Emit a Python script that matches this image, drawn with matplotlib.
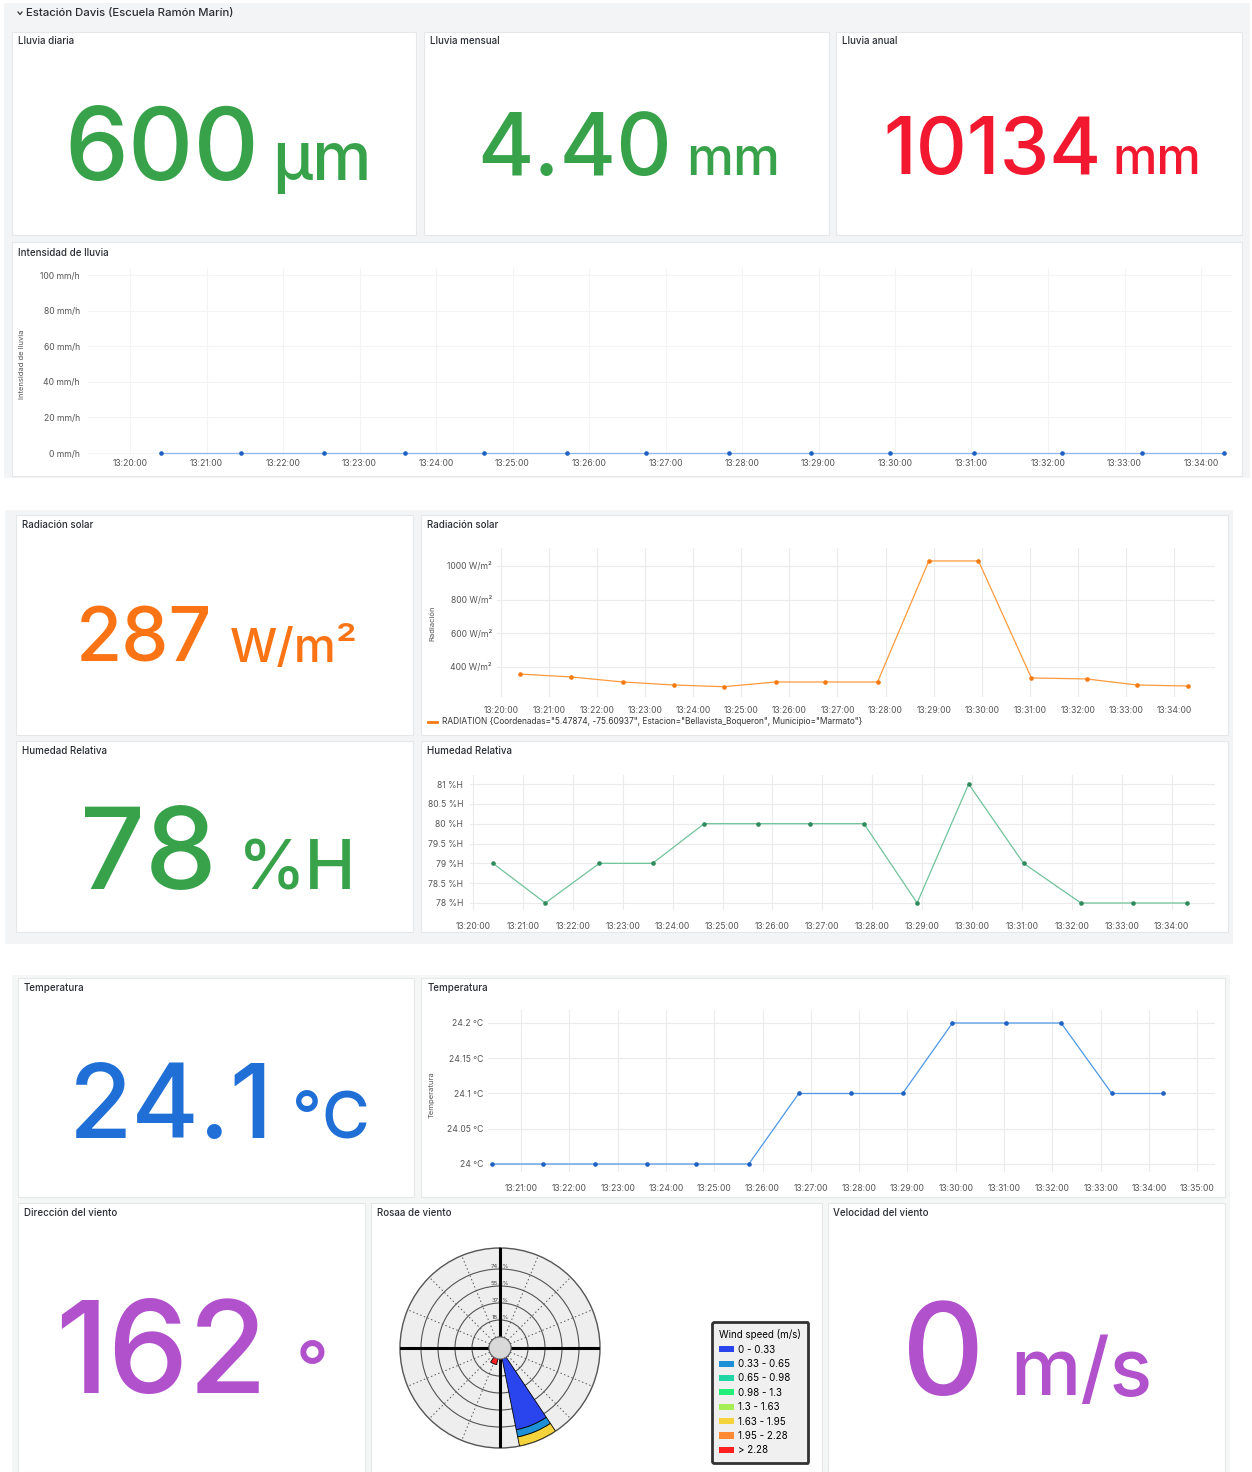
import numpy as np
import matplotlib.pyplot as plt
from matplotlib.patches import Rectangle, Circle, Patch
from matplotlib.lines import Line2D
from matplotlib.ticker import FuncFormatter

plt.rcParams['font.family'] = ['Inter', 'DejaVu Sans']

W, H = 1252, 1472

# ---- datos ----
tiempos = ["13:20:24", "13:21:27", "13:22:32", "13:23:36", "13:24:38", "13:25:43",
           "13:26:45", "13:27:50", "13:28:54", "13:29:56", "13:31:02", "13:32:11",
           "13:33:14", "13:34:18"]
intensidad_lluvia = [0, 0, 0, 0, 0, 0, 0, 0, 0, 0, 0, 0, 0, 0]
radiacion = [358, 341, 311, 293, 283, 311, 311, 311, 1030, 1030, 335, 329, 293, 287]
humedad = [79, 78, 79, 79, 80, 80, 80, 80, 78, 81, 79, 78, 78, 78]
temperatura = [24.0, 24.0, 24.0, 24.0, 24.0, 24.0, 24.1, 24.1, 24.1, 24.2, 24.2, 24.2, 24.1, 24.1]

titulos_stat = ["Lluvia diaria", "Lluvia mensual", "Lluvia anual", "Radiación solar",
                "Humedad Relativa", "Temperatura", "Dirección del viento", "Velocidad del viento"]
valores_stat = ["600", "4.40", "10134", "287", "78", "24.1", "162", "0"]
unidades_stat = ["µm", "mm", "mm", "W/m²", "%H", "°C", "°", "m/s"]

direcciones_viento = [157.5, 202.5]
rangos_viento = ["0 - 0.33", "0.33 - 0.65", "0.65 - 0.98", "0.98 - 1.3", "1.3 - 1.63",
                 "1.63 - 1.95", "1.95 - 2.28", "> 2.28"]
# frecuencia (%) por rango de velocidad, para cada direccion
frecuencias_viento = [[79.0, 0], [8.0, 0], [0, 0], [0, 0], [0, 0], [10.0, 0], [0, 0], [0, 6.5]]
anillos_viento = [18.55, 37.1, 55.65, 74.2]
etiquetas_anillos = ["18.5%", "37.1%", "55.6%", "74.2%"]

etiqueta_radiacion = ('RADIATION {Coordenadas="5.47874, -75.60937", Estacion="Bellavista_Boqueron", '
                      'Municipio="Marmato"}')

colores_viento = ["#2b45ee", "#1e90d8", "#20d6a5", "#22ee7c", "#a6ee55", "#f5d33b", "#ff8a33", "#ff1f1f"]


def seg(t):
    h, m, s = map(int, t.split(':'))
    return h * 3600 + m * 60 + s - (13 * 3600 + 20 * 60)


t = np.array([seg(x) for x in tiempos])

fig = plt.figure(figsize=(W / 100, H / 100), dpi=100)
fig.patch.set_facecolor('white')


def rect(x0, y0, x1, y1):
    return [x0 / W, 1 - y1 / H, (x1 - x0) / W, (y1 - y0) / H]


def caja(x0, y0, x1, y1, color, borde='none', z=-2):
    fig.patches.append(Rectangle((x0 / W, 1 - y1 / H), (x1 - x0) / W, (y1 - y0) / H,
                                 transform=fig.transFigure, facecolor=color,
                                 edgecolor=borde, lw=0.8, zorder=z))


def texto(x, y, s, **kw):
    fig.text(x / W, 1 - y / H, s, **kw)


# fondos de secciones
caja(4, 3, 1250, 478, '#f3f4f5', z=-3)
caja(5, 510, 1233, 944, '#f3f4f5', z=-3)
caja(12, 975, 1230, 1472, '#f5f6f6', z=-3)

paneles = [(12, 32, 416, 235), (424, 32, 829, 235), (836, 32, 1242, 235), (12, 242, 1242, 476),
           (16, 515, 413, 735), (421, 515, 1228, 735), (16, 741, 413, 932), (421, 741, 1228, 932),
           (18, 978, 414, 1197), (421, 978, 1225, 1197), (18, 1203, 365, 1472),
           (371, 1203, 822, 1472), (828, 1203, 1225, 1472)]
for p in paneles:
    caja(*p, 'white', '#e6e7e8')

# cabecera
fig.lines.append(Line2D([18 / W, 20 / W, 22 / W], [1 - 12 / H, 1 - 14.5 / H, 1 - 12 / H],
                        transform=fig.transFigure, color='#333', lw=0.9))
texto(26, 13, "Estación Davis (Escuela Ramón Marín)", fontsize=8.2, color='#2a2d33',
      va='center', fontweight='medium')

# titulos de paneles
pos_titulos = [(18, 41), (430, 41), (842, 41), (22, 525), (22, 751), (24, 988), (24, 1213), (833, 1213)]
for (x, y), s in zip(pos_titulos, titulos_stat):
    texto(x, y, s, fontsize=7, color='#2a2d33', va='center', fontweight='medium')
for (x, y), s in zip([(18, 253), (427, 525), (427, 751), (428, 988), (377, 1213)],
                     ["Intensidad de lluvia", "Radiación solar", "Humedad Relativa", "Temperatura",
                      "Rosaa de viento"]):
    texto(x, y, s, fontsize=7, color='#2a2d33', va='center', fontweight='medium')

# valores grandes
verde, rojo, naranja, azul, morado = '#37a24a', '#f2182f', '#fa7415', '#1f6fd6', '#b151cc'
formato_stat = [  # color, x valor, x unidad, linea base, tam valor, tam unidad
    (verde, 64, 272, 180, 73, 48),
    (verde, 477, 686, 175, 62, 38),
    (rojo, 883, 1112, 174, 57, 36),
    (naranja, 76, 230, 662, 54, 34),
    (verde, 80, 238, 889, 82, 49),
    (azul, 69, 292, 1138, 74, 47),
    (morado, 55, 296, 1393, 92, 52),
    (morado, 902, 1010, 1395, 92, 57),
]
for v, u, (c, xv, xu, yb, sv, su) in zip(valores_stat, unidades_stat, formato_stat):
    texto(xv, yb, v, fontsize=sv, color=c, ha='left', va='baseline', fontweight='medium')
    texto(xu, yb, u, fontsize=su, color=c, ha='left', va='baseline', fontweight='medium')


def hora(v, pos):
    return f"13:{20 + int(round(v / 60)):02d}:00"


def serie(px, px_cero, px_min, ref_a, ref_b, yticks, fmt, valores, c_linea, c_punto, pady, padx,
          c_grid='#ebebeb'):
    x0, y0, x1, y1 = px
    ax = fig.add_axes(rect(*px))
    ax.set_facecolor('none')
    ax.plot(t, valores, color=c_linea, lw=0.9, marker='o', ms=2.3, mfc=c_punto, mec=c_punto,
            clip_on=False, zorder=3)
    ax.set_xticks(np.arange(0, 16 * 60, 60))
    ax.xaxis.set_major_formatter(FuncFormatter(hora))
    ax.set_yticks(yticks)
    ax.set_yticklabels([fmt(v) for v in yticks])
    (pa, va), (pb, vb) = ref_a, ref_b
    k = (vb - va) / (pb - pa)
    ax.set_ylim(va + (y1 - pa) * k, va + (y0 - pa) * k)
    ax.set_xlim((x0 - px_cero) / px_min * 60, (x1 - px_cero) / px_min * 60)
    ax.grid(color=c_grid, lw=0.8)
    for s in ax.spines.values():
        s.set_visible(False)
    ax.tick_params(axis='both', length=0, labelsize=6.2, colors='#555555')
    ax.tick_params(axis='y', pad=pady)
    ax.tick_params(axis='x', pad=padx)
    return ax


serie((88, 268, 1232, 455), 130, 76.5, (453, 0), (275, 100), [0, 20, 40, 60, 80, 100],
      lambda v: f"{v:g} mm/h", intensidad_lluvia, '#8ab8ee', '#1f60c4', 5.8, 2.9, '#f4f4f4')
texto(22, 364, "Intensidad de lluvia", fontsize=5.5, color='#555', rotation=90, ha='center', va='center')

ax_rad = serie((497, 548, 1215, 697), 501, 48.07, (667, 400), (566, 1000), [400, 600, 800, 1000],
               lambda v: f"{v:g} W/m²", radiacion, '#ff9a3c', '#f57a10', 3.6, 6.5)
texto(432, 623, "Radiación", fontsize=5.5, color='#555', rotation=90, ha='center', va='center')
ax_rad.legend([Line2D([], [], color='#f57a10', lw=2)], [etiqueta_radiacion], loc='center left',
              bbox_to_anchor=(425 / W, 1 - 722 / H), bbox_transform=fig.transFigure, frameon=False,
              fontsize=6.0, handlelength=1.0, handletextpad=0.6, labelcolor='#333', borderaxespad=0)

serie((470, 775, 1215, 910), 473, 49.9, (903, 78), (784, 81), [78, 78.5, 79, 79.5, 80, 80.5, 81],
      lambda v: f"{v:g} %H", humedad, '#6fc39a', '#2f8a5c', 5.0, 8.6)

serie((488, 1010, 1215, 1172), 472.7, 48.3, (1164, 24.0), (1023, 24.2),
      [24.0, 24.05, 24.1, 24.15, 24.2], lambda v: f"{round(v, 2):g} °C", temperatura,
      '#4d98e6', '#1f60c4', 3.6, 8.6)
texto(432, 1095, "Temperatura", fontsize=5.5, color='#555', rotation=90, ha='center', va='center')

# rosa de viento
axp = fig.add_axes(rect(400, 1248, 600, 1448), projection='polar')
axp.set_theta_zero_location('N')
axp.set_theta_direction(-1)
R, hueco = 97.1, 12.0
axp.set_ylim(0, R)
axp.set_rorigin(-hueco)
axp.set_facecolor('#eeeeee')
axp.set_thetagrids(np.arange(0, 360, 22.5), labels=[])
axp.set_rgrids(anillos_viento, labels=etiquetas_anillos, angle=0, fontsize=4.3, color='#444')
axp.xaxis.grid(True, color='#555', ls=(0, (1.5, 2.5)), lw=0.7)
axp.yaxis.grid(True, color='#555', ls='-', lw=0.8)
axp.spines['polar'].set_color('#555')
axp.spines['polar'].set_linewidth(1.0)
for lab in axp.get_yticklabels():
    lab.set_ha('center')

theta = np.deg2rad(direcciones_viento)
base = np.zeros(len(direcciones_viento))
for i, vals in enumerate(frecuencias_viento):
    vals = np.array(vals, dtype=float)
    m = vals > 0
    if m.any():
        axp.bar(theta[m], vals[m], width=np.deg2rad(22.5), bottom=base[m], color=colores_viento[i],
                edgecolor='black', lw=0.6, zorder=3)
    base += vals

axp.plot([0.5, 0.5], [0, 1], transform=axp.transAxes, color='black', lw=2.2, zorder=4)
axp.plot([0, 1], [0.5, 0.5], transform=axp.transAxes, color='black', lw=2.2, zorder=4)
axp.add_artist(Circle((0.5, 0.5), 0.055, transform=axp.transAxes, facecolor='#d9d9d9',
                      edgecolor='#777', lw=0.8, zorder=5, clip_on=False))

handles = [Patch(facecolor=c, edgecolor='none') for c in colores_viento]
leg = axp.legend(handles, rangos_viento, title="Wind speed (m/s)", loc='upper left',
                 bbox_to_anchor=(712 / W, 1 - 1322 / H), bbox_transform=fig.transFigure,
                 fontsize=7, title_fontsize=7, handlelength=1.5, handleheight=0.6,
                 labelspacing=0.45, borderpad=0.75, handletextpad=0.4, alignment='left',
                 fancybox=True, framealpha=1, borderaxespad=0)
leg.get_frame().set_edgecolor('#333333')
leg.get_frame().set_linewidth(2)
leg.get_frame().set_facecolor('#f0f0f0')

fig.savefig('out.png', dpi=100)
